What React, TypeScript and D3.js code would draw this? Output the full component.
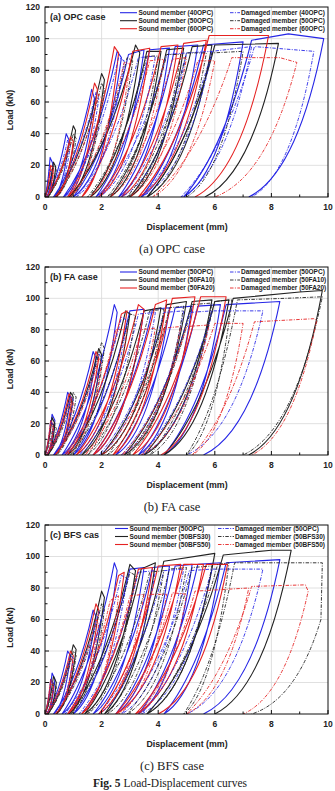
import React, { useEffect, useRef } from 'react';
import * as d3 from 'd3';

// Each cycle: [residual displacement at end of unloading, then (disp, load) pairs]
// first pair = where reloading meets the envelope, last pair = start of unloading.
// A cycle starts from the previous cycle's residual displacement.
type Cycle = number[];

// ----- (a) OPC case -----
const sound40OPC: Cycle[] = [
  [0.05, 0.18, 25, 0.28, 21],
  [0.3, 0.75, 40, 0.85, 36],
  [0.65, 1.65, 68, 1.75, 62],
  [1.0, 2.55, 92, 2.7, 88],
  [1.8, 2.95, 90, 3.5, 93],
  [2.6, 3.7, 93, 4.4, 94],
  [3.4, 4.6, 95, 5.4, 96],
  [4.9, 5.6, 96, 7.0, 98],
  [7.2, 7.3, 99, 8.6, 103, 9.85, 100],
];
const sound50OPC_a: Cycle[] = [
  [0.1, 0.3, 22, 0.38, 19],
  [0.35, 1.0, 45, 1.08, 42],
  [0.85, 2.0, 78, 2.1, 74],
  [1.6, 3.2, 96, 3.35, 91],
  [2.3, 3.6, 92, 4.1, 92],
  [3.0, 4.3, 93, 4.9, 94],
  [3.6, 5.2, 95, 5.9, 96],
  [5.65, 6.0, 96, 8.25, 97],
];
const sound60OPC: Cycle[] = [
  [0.05, 0.2, 20, 0.3, 18],
  [0.4, 0.9, 38, 1.0, 35],
  [0.8, 1.75, 72, 1.85, 68],
  [1.3, 2.45, 95, 2.6, 91],
  [1.9, 3.1, 92, 3.7, 94],
  [2.7, 4.1, 95, 4.7, 96],
  [3.3, 4.9, 97, 5.7, 99],
  [5.3, 5.8, 102, 7.9, 102],
];
const damaged40OPC: Cycle[] = [
  [0.05, 0.15, 18, 0.22, 15],
  [0.3, 0.8, 36, 0.9, 33],
  [0.7, 1.8, 66, 1.9, 62],
  [1.1, 2.6, 88, 2.8, 86],
  [1.9, 3.3, 88, 3.9, 89],
  [2.7, 4.3, 90, 5.0, 91],
  [3.4, 5.0, 91, 5.9, 92],
  [4.8, 5.9, 92, 7.3, 95],
  [7.3, 7.4, 95, 9.5, 92],
];
const damaged50OPC_a: Cycle[] = [
  [0.1, 0.3, 20, 0.4, 17],
  [0.4, 1.0, 40, 1.1, 37],
  [0.9, 2.0, 72, 2.1, 68],
  [1.5, 2.9, 88, 3.1, 86],
  [2.2, 3.6, 89, 4.0, 89],
  [2.9, 4.3, 90, 4.8, 90],
  [3.6, 5.0, 91, 5.7, 91],
  [5.0, 5.9, 91, 7.0, 92],
];
const damaged60OPC: Cycle[] = [
  [0.05, 0.2, 18, 0.3, 15],
  [0.35, 0.9, 35, 1.0, 32],
  [0.9, 1.9, 65, 2.0, 62],
  [1.6, 2.8, 85, 3.0, 84],
  [2.3, 3.7, 86, 4.2, 87],
  [3.0, 4.5, 87, 5.0, 88],
  [3.8, 5.4, 86, 6.0, 86],
  [6.0, 6.6, 88, 8.3, 88, 8.9, 85],
];

// ----- (b) FA case / (c) BFS case: 50OPC reference members -----
const sound50OPC: Cycle[] = [
  [0.05, 0.25, 26, 0.35, 22],
  [0.3, 0.8, 40, 0.9, 37],
  [0.6, 1.7, 66, 1.8, 62],
  [1.0, 2.45, 96, 2.55, 91],
  [1.7, 3.0, 92, 3.5, 93],
  [2.5, 3.8, 93, 4.4, 94],
  [3.3, 4.6, 94, 5.2, 95],
  [4.2, 5.4, 95, 6.2, 96],
  [5.6, 6.4, 96, 8.3, 98],
];
const damaged50OPC: Cycle[] = [
  [0.05, 0.2, 22, 0.3, 18],
  [0.3, 0.9, 38, 1.0, 35],
  [0.7, 1.9, 65, 2.0, 61],
  [1.2, 2.7, 88, 2.9, 86],
  [1.9, 3.3, 90, 3.9, 91],
  [2.7, 4.2, 91, 4.9, 92],
  [3.4, 5.1, 91, 5.9, 92],
  [5.0, 5.9, 92, 7.7, 92],
];

// ----- (b) FA case -----
const sound50FA10: Cycle[] = [
  [0.1, 0.25, 24, 0.35, 20],
  [0.35, 0.9, 40, 1.0, 37],
  [0.8, 1.9, 68, 2.0, 64],
  [1.3, 2.85, 92, 3.0, 90],
  [2.0, 3.5, 92, 4.1, 94],
  [2.8, 4.3, 96, 5.0, 98],
  [3.5, 5.2, 98, 5.9, 99],
  [4.2, 6.0, 98, 6.5, 99],
  [7.2, 6.65, 100, 9.0, 104, 9.8, 105],
];
const sound50FA20: Cycle[] = [
  [0.05, 0.2, 22, 0.3, 19],
  [0.35, 0.85, 39, 0.95, 36],
  [0.7, 1.8, 66, 1.9, 62],
  [1.1, 2.7, 90, 2.9, 92],
  [1.7, 3.3, 96, 3.5, 93],
  [2.4, 3.9, 96, 4.3, 99],
  [3.1, 4.5, 100, 5.3, 101],
  [4.1, 5.5, 101, 6.4, 101],
];
const damaged50FA10: Cycle[] = [
  [0.1, 0.3, 20, 0.4, 17],
  [0.4, 1.0, 40, 1.1, 37],
  [0.9, 2.0, 72, 2.1, 68],
  [1.5, 3.0, 90, 3.2, 89],
  [2.2, 3.7, 92, 4.2, 93],
  [2.9, 4.4, 94, 4.9, 95],
  [3.7, 5.2, 96, 5.9, 97],
  [5.0, 6.0, 98, 6.6, 99],
  [7.0, 6.8, 99, 8.5, 100, 9.8, 101],
];
const damaged50FA20: Cycle[] = [
  [0.05, 0.2, 20, 0.3, 17],
  [0.35, 0.9, 36, 1.0, 33],
  [0.8, 1.9, 62, 2.0, 58],
  [1.4, 2.5, 80, 2.9, 80],
  [2.0, 3.4, 80, 3.9, 81],
  [2.7, 4.2, 81, 4.8, 82],
  [3.4, 5.0, 82, 5.8, 83],
  [5.2, 6.0, 84, 7.0, 84],
  [7.3, 7.4, 85, 9.5, 87, 9.6, 86],
];

// ----- (c) BFS case -----
const sound50BFS30: Cycle[] = [
  [0.1, 0.3, 24, 0.4, 20],
  [0.4, 1.0, 44, 1.1, 41],
  [0.85, 2.0, 78, 2.1, 74],
  [1.4, 3.0, 95, 3.2, 91],
  [2.1, 3.4, 92, 3.9, 96],
  [3.6, 4.2, 97, 6.0, 102],
  [6.0, 6.3, 101, 8.0, 104, 8.7, 104],
];
const sound50BFS50: Cycle[] = [
  [0.05, 0.2, 22, 0.3, 18],
  [0.4, 0.9, 40, 1.0, 37],
  [0.8, 1.8, 70, 1.9, 66],
  [1.3, 2.6, 88, 2.8, 90],
  [1.9, 3.3, 92, 3.8, 93],
  [2.5, 4.0, 94, 4.8, 95],
  [3.2, 4.9, 95, 5.6, 95],
  [4.0, 5.7, 95, 6.45, 95],
];
const damaged50BFS30: Cycle[] = [
  [0.1, 0.3, 20, 0.4, 17],
  [0.4, 1.0, 40, 1.1, 37],
  [0.9, 2.0, 70, 2.1, 66],
  [1.5, 3.0, 90, 3.2, 88],
  [2.2, 3.7, 90, 4.2, 91],
  [2.9, 4.4, 92, 5.0, 93],
  [3.6, 5.2, 93, 5.9, 94],
  [4.9, 6.1, 95, 6.5, 96],
  [7.3, 6.7, 96, 9.8, 96, 9.75, 60],
];
const damaged50BFS50: Cycle[] = [
  [0.05, 0.2, 20, 0.3, 17],
  [0.35, 0.9, 36, 1.0, 33],
  [0.8, 1.8, 60, 1.9, 57],
  [1.3, 2.3, 72, 2.6, 75],
  [1.9, 3.0, 75, 3.5, 76],
  [2.6, 3.7, 76, 4.3, 76],
  [3.3, 4.5, 77, 5.0, 76],
  [5.0, 5.3, 78, 7.2, 80],
  [7.0, 7.3, 81, 9.2, 82, 9.3, 78],
];

const legendA = ['Sound member (40OPC)', 'Sound member (50OPC)', 'Sound member (60OPC)',
  'Damaged member (40OPC)', 'Damaged member (50OPC)', 'Damaged member (60OPC)'];
const legendB = ['Sound member (50OPC)', 'Sound member (50FA10)', 'Sound member (50FA20)',
  'Damaged member (50OPC)', 'Damaged member (50FA10)', 'Damaged member (50FA20)'];
const legendC = ['Sound member (50OPC)', 'Sound member (50BFS30)', 'Sound member (50BFS50)',
  'Damaged member (50OPC)', 'Damaged member (50BFS30)', 'Damaged member (50BFS50)'];

const xTicks = [0, 2, 4, 6, 8, 10];
const yTicks = [0, 20, 40, 60, 80, 100, 120];

const BLUE = '#2626e6';
const BLACK = '#222222';
const RED = '#e52222';
const colors = [BLUE, BLACK, RED];
const DASH = '3.5,1.4,1,1.4';
const SANS = '"Liberation Sans", Arial, sans-serif';
const SERIF = '"Liberation Serif", "Times New Roman", serif';

const panels = [
  { title: '(a) OPC case', caption: '(a) OPC case', top: 7, bottom: 197, legendY: 12.7, legendX: [120, 137, 230, 240],
    legend: legendA, sound: [sound40OPC, sound50OPC_a, sound60OPC], damaged: [damaged40OPC, damaged50OPC_a, damaged60OPC] },
  { title: '(b) FA case', caption: '(b) FA case', top: 267, bottom: 455, legendY: 272, legendX: [120, 137, 230, 240],
    legend: legendB, sound: [sound50OPC, sound50FA10, sound50FA20], damaged: [damaged50OPC, damaged50FA10, damaged50FA20] },
  { title: '(c) BFS cas', caption: '(c) BFS case', top: 525, bottom: 714, legendY: 528.5, legendX: [115, 128, 218, 234],
    legend: legendC, sound: [sound50OPC, sound50BFS30, sound50BFS50], damaged: [damaged50OPC, damaged50BFS30, damaged50BFS50] },
];

function cyclePath(cycles: Cycle[], x: d3.ScaleLinear<number, number>, y: d3.ScaleLinear<number, number>) {
  const p = d3.path();
  let s = 0;
  p.moveTo(x(0), y(0));
  cycles.forEach((c) => {
    const r = c[0];
    const pts: [number, number][] = [];
    for (let i = 1; i < c.length; i += 2) pts.push([c[i], c[i + 1]]);
    const [jx, jl] = pts[0];
    // reloading branch
    p.quadraticCurveTo(x(s + 0.6 * (jx - s)), y(0.3 * jl), x(jx), y(jl));
    pts.slice(1).forEach(([px, pl]) => p.lineTo(x(px), y(pl)));
    // unloading branch
    const [ux, ul] = pts[pts.length - 1];
    p.quadraticCurveTo(x(r + 0.65 * (ux - r)), y(0.15 * ul), x(r), y(0));
    s = r;
  });
  return p.toString();
}

const App = () => {
  const svgRef = useRef<SVGSVGElement>(null);

  useEffect(() => {
    const svg = d3.select(svgRef.current);
    svg.selectAll('*').remove();

    const x = d3.scaleLinear().domain([0, 10]).range([45, 328]);

    panels.forEach((pn, pi) => {
      const y = d3.scaleLinear().domain([0, 120]).range([pn.bottom, pn.top]);
      const g = svg.append('g');

      // grid
      g.selectAll('.gx').data(xTicks.slice(1, -1)).enter().append('line')
        .attr('x1', (d) => x(d)).attr('x2', (d) => x(d))
        .attr('y1', pn.top).attr('y2', pn.bottom)
        .attr('stroke', '#d8d8d8').attr('stroke-width', 0.8);
      g.selectAll('.gy').data(yTicks.slice(1, -1)).enter().append('line')
        .attr('x1', x(0)).attr('x2', x(10))
        .attr('y1', (d) => y(d)).attr('y2', (d) => y(d))
        .attr('stroke', '#d8d8d8').attr('stroke-width', 0.8);

      // curves
      const clipId = `clip-${pi}`;
      svg.append('clipPath').attr('id', clipId).append('rect')
        .attr('x', x(0)).attr('y', pn.top).attr('width', x(10) - x(0)).attr('height', pn.bottom - pn.top);
      const curves = g.append('g').attr('clip-path', `url(#${clipId})`);
      pn.sound.forEach((cycles, i) => {
        curves.append('path').attr('d', cyclePath(cycles, x, y))
          .attr('fill', 'none').attr('stroke', colors[i]).attr('stroke-width', 1.1)
          .attr('stroke-linejoin', 'round');
      });
      pn.damaged.forEach((cycles, i) => {
        curves.append('path').attr('d', cyclePath(cycles, x, y))
          .attr('fill', 'none').attr('stroke', colors[i]).attr('stroke-width', 0.9)
          .attr('stroke-dasharray', DASH);
      });

      // frame
      g.append('rect').attr('x', x(0)).attr('y', pn.top)
        .attr('width', x(10) - x(0)).attr('height', pn.bottom - pn.top)
        .attr('fill', 'none').attr('stroke', '#111').attr('stroke-width', 1);

      // ticks (inward)
      d3.range(0, 11, 1).forEach((v) => {
        const len = v % 2 === 0 ? 4 : 2.5;
        g.append('line').attr('x1', x(v)).attr('x2', x(v))
          .attr('y1', pn.bottom).attr('y2', pn.bottom - len).attr('stroke', '#111');
      });
      d3.range(0, 121, 10).forEach((v) => {
        const len = v % 20 === 0 ? 4 : 2.5;
        g.append('line').attr('x1', x(0)).attr('x2', x(0) + len)
          .attr('y1', y(v)).attr('y2', y(v)).attr('stroke', '#111');
      });

      // tick labels
      g.selectAll('.xl').data(xTicks).enter().append('text')
        .attr('x', (d) => x(d)).attr('y', pn.bottom + 13)
        .attr('text-anchor', 'middle').attr('font-family', SANS).attr('font-weight', 'bold')
        .attr('font-size', 8.5).attr('fill', '#222').text((d) => d);
      g.selectAll('.yl').data(yTicks).enter().append('text')
        .attr('x', 40).attr('y', (d) => y(d)).attr('dy', '0.35em')
        .attr('text-anchor', 'end').attr('font-family', SANS).attr('font-weight', 'bold')
        .attr('font-size', 8.5).attr('fill', '#222').text((d) => d);

      // axis titles
      g.append('text').attr('x', 187).attr('y', pn.bottom + 33)
        .attr('text-anchor', 'middle').attr('font-family', SANS).attr('font-weight', 'bold')
        .attr('font-size', 8.8).attr('fill', '#222').text('Displacement (mm)');
      const ly = (pn.top + pn.bottom) / 2 + 8;
      g.append('text').attr('transform', `translate(13,${ly}) rotate(-90)`)
        .attr('text-anchor', 'middle').attr('font-family', SANS).attr('font-weight', 'bold')
        .attr('font-size', 8.8).attr('fill', '#222').text('Load (kN)');

      // panel label
      g.append('text').attr('x', 50).attr('y', pn.top + 12.5)
        .attr('font-family', SANS).attr('font-weight', 'bold')
        .attr('font-size', 9).attr('fill', '#222').text(pn.title);

      // legend
      const [sx0, sx1, dx0, dx1] = pn.legendX;
      [0, 1, 2].forEach((i) => {
        const ry = pn.legendY + i * 8;
        g.append('line').attr('x1', sx0).attr('x2', sx1).attr('y1', ry).attr('y2', ry)
          .attr('stroke', colors[i]).attr('stroke-width', 1.1);
        g.append('text').attr('x', sx1 + 1.5).attr('y', ry).attr('dy', '0.35em')
          .attr('font-family', SANS).attr('font-weight', 'bold').attr('font-size', 6.5)
          .attr('fill', '#222').text(pn.legend[i]);
        g.append('line').attr('x1', dx0).attr('x2', dx1).attr('y1', ry).attr('y2', ry)
          .attr('stroke', colors[i]).attr('stroke-width', 0.9).attr('stroke-dasharray', DASH);
        g.append('text').attr('x', dx1 + 1).attr('y', ry).attr('dy', '0.35em')
          .attr('font-family', SANS).attr('font-weight', 'bold').attr('font-size', 6.5)
          .attr('fill', '#222').text(pn.legend[i + 3]);
      });

      // caption
      g.append('text').attr('x', 172).attr('y', pn.bottom + 56)
        .attr('text-anchor', 'middle').attr('font-family', SERIF)
        .attr('font-size', 12.5).attr('fill', '#222').text(pn.caption);
    });

    const fig = svg.append('text').attr('x', 170).attr('y', 787)
      .attr('text-anchor', 'middle').attr('font-family', SERIF)
      .attr('font-size', 11.5).attr('fill', '#222');
    fig.append('tspan').attr('font-weight', 'bold').text('Fig. 5 ');
    fig.append('tspan').text('Load-Displacement curves');
  }, []);

  return (
    <div style={{ position: 'absolute', left: 0, top: 0 }}>
      <svg ref={svgRef} width={335} height={791} style={{ display: 'block', background: '#fff' }} />
    </div>
  );
};

export default App;
